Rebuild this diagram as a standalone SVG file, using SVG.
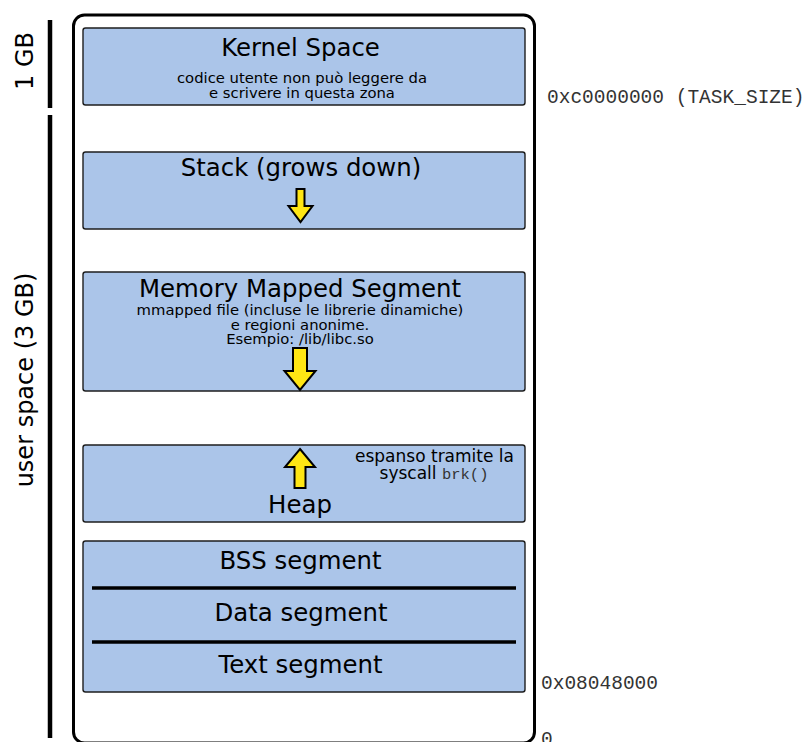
<svg xmlns="http://www.w3.org/2000/svg" width="803" height="742" viewBox="0 0 803 742">
  <style>
    .seg { fill: #abc5e9; stroke: #1e1e1e; stroke-width: 1.4; }
    .title { font-family: "DejaVu Sans", sans-serif; font-size: 24.4px; fill: #000; text-anchor: middle; }
    .note { font-family: "DejaVu Sans", sans-serif; font-size: 14.8px; fill: #000; text-anchor: middle; }
    .note17 { font-family: "DejaVu Sans", sans-serif; font-size: 17px; fill: #000; text-anchor: middle; }
    .addr { font-family: "Liberation Mono", "Courier New", monospace; font-size: 19.5px; fill: #333; }
    .arrow { fill: #ffe614; stroke: #000; stroke-width: 2; stroke-linejoin: miter; }
    .bar { stroke: #000; stroke-width: 4.5; }
    .side { font-family: "DejaVu Sans", sans-serif; font-size: 24px; fill: #000; text-anchor: middle; }
  </style>

  <rect width="803" height="742" fill="#fff"/>

  <!-- size scale on the left -->
  <g id="scale">
    <line class="bar" x1="50" y1="20" x2="50" y2="108"/>
    <line class="bar" x1="50" y1="115" x2="50" y2="738"/>
    <text class="side" transform="translate(33,61) rotate(-90)">1 GB</text>
    <text class="side" transform="translate(33,380) rotate(-90)">user space (3 GB)</text>
  </g>

  <!-- address space frame -->
  <g id="address-space">
    <rect x="73.5" y="15" width="461" height="728" rx="11" fill="none" stroke="#000" stroke-width="3"/>
  </g>

  <g id="kernel-space">
    <rect class="seg" x="83" y="28" width="442" height="77" rx="2.5"/>
    <text class="title" x="300.5" y="56">Kernel Space</text>
    <text class="note" x="302" y="83">codice utente non può leggere da</text>
    <text class="note" x="302" y="98">e scrivere in questa zona</text>
  </g>

  <g id="stack">
    <rect class="seg" x="83" y="152" width="442" height="77" rx="2.5"/>
    <text class="title" x="301" y="176">Stack (grows down)</text>
    <polygon class="arrow" points="296.5,189 304.5,189 304.5,206 312.5,206 300.5,222 288.5,206 296.5,206"/>
  </g>

  <g id="mmap">
    <rect class="seg" x="83" y="272" width="442" height="119" rx="2.5"/>
    <text class="title" x="300" y="297">Memory Mapped Segment</text>
    <text class="note" x="300" y="315">mmapped file (incluse le librerie dinamiche)</text>
    <text class="note" x="300" y="330">e regioni anonime.</text>
    <text class="note" x="300" y="344">Esempio: /lib/libc.so</text>
    <polygon class="arrow" points="293,348 307,348 307,371 315.5,371 300,390 284.5,371 293,371"/>
  </g>

  <g id="heap">
    <rect class="seg" x="83" y="445" width="442" height="77" rx="2.5"/>
    <polygon class="arrow" points="300,449 315,467 305.5,467 305.5,488 294.5,488 294.5,467 285,467"/>
    <text class="title" x="300" y="513">Heap</text>
    <text class="note17" x="434.5" y="462">espanso tramite la</text>
    <text class="note17" x="434" y="479">syscall <tspan font-family="Liberation Mono, Courier New, monospace" font-size="15.5" fill="#333">brk()</tspan></text>
  </g>

  <g id="static-segments">
    <rect class="seg" x="83" y="541" width="442" height="151" rx="2.5"/>
    <text class="title" x="300.5" y="569">BSS segment</text>
    <line x1="92" y1="588" x2="516" y2="588" stroke="#000" stroke-width="3.5"/>
    <text class="title" x="301" y="621">Data segment</text>
    <line x1="92" y1="642" x2="516" y2="642" stroke="#000" stroke-width="3.5"/>
    <text class="title" x="300.5" y="673">Text segment</text>
  </g>

  <!-- boundary addresses -->
  <g id="addresses">
    <text class="addr" x="547" y="103">0xc0000000 (TASK_SIZE)</text>
    <text class="addr" x="541" y="689">0x08048000</text>
    <text class="addr" x="541" y="745">0</text>
  </g>
</svg>
